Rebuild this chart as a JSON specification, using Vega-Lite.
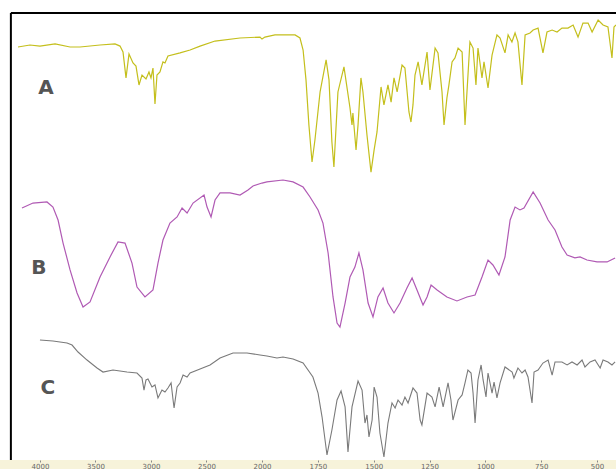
{
  "$schema": "https://vega.github.io/schema/vega-lite/v6.json",
  "background": "#f7f3da",
  "padding": 0,
  "spacing": 0,
  "bounds": "flush",
  "config": {"view": {"fill": "white", "stroke": null}, "concat": {"spacing": 0}},
  "datasets": {
    "one": [{}],
    "A": [
      {"wn":4198,"t":73.9},{"wn":4090,"t":75.0},{"wn":4000,"t":74.4},{"wn":3864,"t":75.6},{"wn":3729,"t":73.9},{"wn":3639,"t":73.9},{"wn":3459,"t":75.0},{"wn":3324,"t":75.6},{"wn":3279,"t":74.4},{"wn":3252,"t":71.1},{"wn":3225,"t":56.7},{"wn":3198,"t":70.0},{"wn":3162,"t":65.0},{"wn":3135,"t":63.3},{"wn":3108,"t":52.8},{"wn":3081,"t":58.3},{"wn":3045,"t":56.1},{"wn":3018,"t":60.0},{"wn":3000,"t":56.7},{"wn":2982,"t":62.2},{"wn":2964,"t":42.2},{"wn":2946,"t":58.3},{"wn":2919,"t":60.0},{"wn":2892,"t":65.6},{"wn":2874,"t":65.0},{"wn":2847,"t":68.9},{"wn":2738,"t":70.6},{"wn":2648,"t":72.2},{"wn":2558,"t":74.4},{"wn":2423,"t":77.2},{"wn":2198,"t":78.9},{"wn":2018,"t":79.4},{"wn":2000,"t":78.3},{"wn":1987,"t":79.4},{"wn":1942,"t":80.6},{"wn":1852,"t":80.6},{"wn":1830,"t":78.9},{"wn":1816,"t":72.2},{"wn":1803,"t":55.6},{"wn":1790,"t":30.6},{"wn":1776,"t":10.0},{"wn":1763,"t":22.2},{"wn":1740,"t":48.9},{"wn":1713,"t":66.7},{"wn":1700,"t":55.6},{"wn":1687,"t":21.1},{"wn":1678,"t":7.2},{"wn":1660,"t":48.9},{"wn":1633,"t":62.8},{"wn":1606,"t":40.0},{"wn":1597,"t":30.6},{"wn":1593,"t":37.2},{"wn":1579,"t":16.7},{"wn":1570,"t":30.6},{"wn":1557,"t":56.7},{"wn":1548,"t":48.9},{"wn":1530,"t":25.0},{"wn":1512,"t":4.4},{"wn":1498,"t":16.7},{"wn":1485,"t":26.7},{"wn":1467,"t":51.7},{"wn":1454,"t":41.7},{"wn":1436,"t":52.8},{"wn":1422,"t":43.3},{"wn":1409,"t":56.7},{"wn":1395,"t":48.9},{"wn":1373,"t":63.9},{"wn":1360,"t":62.2},{"wn":1342,"t":37.8},{"wn":1333,"t":32.2},{"wn":1324,"t":41.7},{"wn":1315,"t":58.3},{"wn":1301,"t":65.6},{"wn":1284,"t":52.8},{"wn":1261,"t":71.1},{"wn":1248,"t":50.0},{"wn":1225,"t":73.3},{"wn":1212,"t":70.6},{"wn":1194,"t":48.9},{"wn":1185,"t":30.6},{"wn":1172,"t":45.6},{"wn":1163,"t":52.8},{"wn":1149,"t":65.6},{"wn":1136,"t":67.8},{"wn":1122,"t":73.3},{"wn":1104,"t":71.1},{"wn":1091,"t":30.6},{"wn":1069,"t":76.7},{"wn":1055,"t":73.3},{"wn":1042,"t":52.8},{"wn":1033,"t":73.3},{"wn":1015,"t":56.7},{"wn":1006,"t":65.6},{"wn":988,"t":51.1},{"wn":970,"t":69.4},{"wn":948,"t":80.6},{"wn":934,"t":78.9},{"wn":912,"t":70.6},{"wn":898,"t":80.6},{"wn":881,"t":76.7},{"wn":867,"t":81.7},{"wn":854,"t":76.7},{"wn":836,"t":52.8},{"wn":822,"t":80.6},{"wn":800,"t":81.7},{"wn":786,"t":83.3},{"wn":764,"t":84.4},{"wn":742,"t":70.6},{"wn":724,"t":82.2},{"wn":701,"t":83.3},{"wn":679,"t":82.2},{"wn":657,"t":84.4},{"wn":630,"t":84.4},{"wn":607,"t":86.1},{"wn":585,"t":79.4},{"wn":563,"t":87.2},{"wn":540,"t":87.2},{"wn":522,"t":82.2},{"wn":495,"t":88.9},{"wn":473,"t":86.1},{"wn":451,"t":85.0},{"wn":433,"t":67.8},{"wn":424,"t":85.0},{"wn":415,"t":86.1}
    ],
    "B": [
      {"wn":4162,"t":82.5},{"wn":4063,"t":85.6},{"wn":3937,"t":86.3},{"wn":3883,"t":83.1},{"wn":3837,"t":75.0},{"wn":3792,"t":60.6},{"wn":3729,"t":43.8},{"wn":3666,"t":29.4},{"wn":3612,"t":20.6},{"wn":3549,"t":23.8},{"wn":3459,"t":39.4},{"wn":3369,"t":51.9},{"wn":3297,"t":61.3},{"wn":3234,"t":60.6},{"wn":3171,"t":48.1},{"wn":3126,"t":33.1},{"wn":3054,"t":26.9},{"wn":2982,"t":31.3},{"wn":2937,"t":48.1},{"wn":2892,"t":62.5},{"wn":2829,"t":73.1},{"wn":2765,"t":76.9},{"wn":2720,"t":82.5},{"wn":2675,"t":79.4},{"wn":2621,"t":85.6},{"wn":2522,"t":90.6},{"wn":2495,"t":83.1},{"wn":2459,"t":76.9},{"wn":2423,"t":87.5},{"wn":2378,"t":91.9},{"wn":2288,"t":91.9},{"wn":2198,"t":90.6},{"wn":2126,"t":93.8},{"wn":2081,"t":96.3},{"wn":2000,"t":98.1},{"wn":1978,"t":98.8},{"wn":1906,"t":100.0},{"wn":1861,"t":98.8},{"wn":1816,"t":95.6},{"wn":1785,"t":89.4},{"wn":1749,"t":81.3},{"wn":1727,"t":73.1},{"wn":1704,"t":54.4},{"wn":1682,"t":26.9},{"wn":1664,"t":10.6},{"wn":1651,"t":8.1},{"wn":1628,"t":23.1},{"wn":1606,"t":39.4},{"wn":1584,"t":45.6},{"wn":1566,"t":54.4},{"wn":1548,"t":43.8},{"wn":1525,"t":23.1},{"wn":1503,"t":14.4},{"wn":1481,"t":26.9},{"wn":1458,"t":32.5},{"wn":1436,"t":23.1},{"wn":1409,"t":16.9},{"wn":1382,"t":23.1},{"wn":1351,"t":32.5},{"wn":1328,"t":38.8},{"wn":1306,"t":31.3},{"wn":1279,"t":21.9},{"wn":1261,"t":26.9},{"wn":1243,"t":34.4},{"wn":1216,"t":31.3},{"wn":1172,"t":26.9},{"wn":1127,"t":24.4},{"wn":1082,"t":26.9},{"wn":1046,"t":28.1},{"wn":1015,"t":39.4},{"wn":988,"t":50.0},{"wn":966,"t":46.9},{"wn":939,"t":40.6},{"wn":912,"t":51.9},{"wn":889,"t":75.0},{"wn":867,"t":83.1},{"wn":845,"t":81.3},{"wn":827,"t":82.5},{"wn":786,"t":92.5},{"wn":755,"t":85.6},{"wn":719,"t":75.0},{"wn":688,"t":68.8},{"wn":657,"t":58.1},{"wn":634,"t":53.1},{"wn":599,"t":51.3},{"wn":576,"t":51.9},{"wn":545,"t":50.0},{"wn":500,"t":48.8},{"wn":455,"t":48.8},{"wn":419,"t":51.3}
    ],
    "C": [
      {"wn":4000,"t":100.0},{"wn":3883,"t":99.2},{"wn":3756,"t":97.5},{"wn":3711,"t":95.8},{"wn":3657,"t":90.0},{"wn":3576,"t":83.3},{"wn":3486,"t":76.7},{"wn":3432,"t":73.3},{"wn":3342,"t":75.0},{"wn":3216,"t":73.3},{"wn":3126,"t":72.5},{"wn":3081,"t":68.3},{"wn":3063,"t":58.3},{"wn":3045,"t":66.7},{"wn":3027,"t":67.5},{"wn":2991,"t":60.8},{"wn":2964,"t":62.5},{"wn":2937,"t":51.7},{"wn":2901,"t":58.3},{"wn":2874,"t":56.7},{"wn":2847,"t":60.0},{"wn":2819,"t":64.2},{"wn":2801,"t":50.0},{"wn":2792,"t":43.3},{"wn":2765,"t":60.8},{"wn":2738,"t":64.2},{"wn":2711,"t":70.8},{"wn":2675,"t":69.2},{"wn":2648,"t":72.5},{"wn":2558,"t":75.8},{"wn":2468,"t":79.2},{"wn":2378,"t":85.0},{"wn":2261,"t":89.2},{"wn":2135,"t":89.2},{"wn":2018,"t":87.5},{"wn":1978,"t":86.7},{"wn":1933,"t":85.0},{"wn":1906,"t":85.8},{"wn":1861,"t":84.2},{"wn":1816,"t":80.8},{"wn":1772,"t":69.2},{"wn":1749,"t":55.8},{"wn":1731,"t":35.8},{"wn":1709,"t":4.2},{"wn":1687,"t":25.0},{"wn":1664,"t":50.0},{"wn":1646,"t":57.5},{"wn":1628,"t":44.2},{"wn":1615,"t":6.7},{"wn":1597,"t":44.2},{"wn":1570,"t":65.8},{"wn":1552,"t":58.3},{"wn":1539,"t":30.8},{"wn":1530,"t":37.5},{"wn":1521,"t":19.2},{"wn":1507,"t":33.3},{"wn":1498,"t":60.8},{"wn":1485,"t":52.5},{"wn":1472,"t":22.5},{"wn":1454,"t":2.5},{"wn":1436,"t":30.8},{"wn":1418,"t":47.5},{"wn":1404,"t":43.3},{"wn":1391,"t":50.0},{"wn":1373,"t":45.8},{"wn":1360,"t":52.5},{"wn":1346,"t":47.5},{"wn":1324,"t":60.0},{"wn":1306,"t":55.8},{"wn":1292,"t":33.3},{"wn":1284,"t":29.2},{"wn":1261,"t":55.8},{"wn":1239,"t":52.5},{"wn":1225,"t":44.2},{"wn":1207,"t":60.8},{"wn":1189,"t":44.2},{"wn":1167,"t":64.2},{"wn":1154,"t":50.0},{"wn":1145,"t":33.3},{"wn":1122,"t":50.0},{"wn":1104,"t":54.2},{"wn":1091,"t":64.2},{"wn":1078,"t":75.0},{"wn":1064,"t":72.5},{"wn":1055,"t":55.8},{"wn":1046,"t":30.8},{"wn":1033,"t":66.7},{"wn":1019,"t":79.2},{"wn":1010,"t":66.7},{"wn":997,"t":52.5},{"wn":988,"t":72.5},{"wn":970,"t":55.8},{"wn":961,"t":65.0},{"wn":948,"t":51.7},{"wn":934,"t":64.2},{"wn":912,"t":77.5},{"wn":880,"t":73.3},{"wn":872,"t":68.3},{"wn":854,"t":76.7},{"wn":836,"t":72.5},{"wn":822,"t":75.0},{"wn":809,"t":69.2},{"wn":791,"t":47.5},{"wn":782,"t":73.3},{"wn":764,"t":75.0},{"wn":742,"t":80.8},{"wn":719,"t":83.3},{"wn":701,"t":70.8},{"wn":688,"t":81.7},{"wn":657,"t":81.7},{"wn":634,"t":79.2},{"wn":612,"t":81.7},{"wn":589,"t":79.2},{"wn":567,"t":83.3},{"wn":554,"t":77.5},{"wn":531,"t":81.7},{"wn":509,"t":83.3},{"wn":486,"t":76.7},{"wn":473,"t":83.3},{"wn":451,"t":81.7},{"wn":433,"t":79.2},{"wn":419,"t":81.7}
    ]
  },
  "vconcat": [
    {
      "width": 616, "height": 180,
      "layer": [
        {"data": {"name": "A"}, "mark": {"type": "line", "color": "#c4bf1c", "strokeWidth": 1.2},
         "encoding": {
           "x": {"field": "wn", "type": "quantitative", "scale": {"domain": [4360, 2000, 415], "range": [0, 262, 616], "zero": false, "nice": false}, "axis": null},
           "y": {"field": "t", "type": "quantitative", "scale": {"domain": [0, 100], "zero": false, "nice": false}, "axis": null}}},
        {"data": {"name": "one"}, "mark": {"type": "rule", "color": "#000000", "strokeWidth": 2},
         "encoding": {"x": {"datum": 4262, "type": "quantitative"}, "y": {"datum": 92.8, "type": "quantitative"}, "y2": {"datum": 0}}},
        {"data": {"name": "one"}, "mark": {"type": "rule", "color": "#000000", "strokeWidth": 2},
         "encoding": {"x": {"datum": 4262, "type": "quantitative"}, "x2": {"datum": 415}, "y": {"datum": 92.8, "type": "quantitative"}}},
        {"data": {"name": "one"}, "mark": {"type": "text", "text": "A", "font": "DejaVu Sans", "fontWeight": "bold", "fontSize": 20, "color": "#555555", "align": "center", "baseline": "middle"},
         "encoding": {"x": {"datum": 3946, "type": "quantitative"}, "y": {"datum": 51.1, "type": "quantitative"}}}
      ]
    },
    {
      "width": 616, "height": 160,
      "layer": [
        {"data": {"name": "B"}, "mark": {"type": "line", "color": "#b05ab4", "strokeWidth": 1.2},
         "encoding": {
           "x": {"field": "wn", "type": "quantitative", "scale": {"domain": [4360, 2000, 415], "range": [0, 262, 616], "zero": false, "nice": false}, "axis": null},
           "y": {"field": "t", "type": "quantitative", "scale": {"domain": [0, 100], "zero": false, "nice": false}, "axis": null}}},
        {"data": {"name": "one"}, "mark": {"type": "rule", "color": "#000000", "strokeWidth": 2},
         "encoding": {"x": {"datum": 4262, "type": "quantitative"}}},
        {"data": {"name": "one"}, "mark": {"type": "text", "text": "B", "font": "DejaVu Sans", "fontWeight": "bold", "fontSize": 20, "color": "#555555", "align": "center", "baseline": "middle"},
         "encoding": {"x": {"datum": 4009, "type": "quantitative"}, "y": {"datum": 45, "type": "quantitative"}}}
      ]
    },
    {
      "width": 616, "height": 120,
      "layer": [
        {"data": {"name": "C"}, "mark": {"type": "line", "color": "#7a7a7a", "strokeWidth": 1.1},
         "encoding": {
           "x": {"field": "wn", "type": "quantitative", "scale": {"domain": [4360, 2000, 415], "range": [0, 262, 616], "zero": false, "nice": false},
                 "axis": {"title": null, "domain": false, "grid": false, "format": "d", "tickSize": 2, "tickColor": "#888888", "labelFontSize": 7, "labelFont": "DejaVu Sans", "labelColor": "#666666", "labelPadding": 0, "labelOverlap": false, "labelBound": false, "labelFlush": false,
                          "values": [4000,3500,3000,2500,2000,1750,1500,1250,1000,750,500]}},
           "y": {"field": "t", "type": "quantitative", "scale": {"domain": [0, 100], "zero": false, "nice": false}, "axis": null}}},
        {"data": {"name": "one"}, "mark": {"type": "rule", "color": "#000000", "strokeWidth": 2},
         "encoding": {"x": {"datum": 4262, "type": "quantitative"}}},
        {"data": {"name": "one"}, "mark": {"type": "text", "text": "C", "font": "DejaVu Sans", "fontWeight": "bold", "fontSize": 20, "color": "#555555", "align": "center", "baseline": "middle"},
         "encoding": {"x": {"datum": 3928, "type": "quantitative"}, "y": {"datum": 60, "type": "quantitative"}}}
      ]
    }
  ]
}
